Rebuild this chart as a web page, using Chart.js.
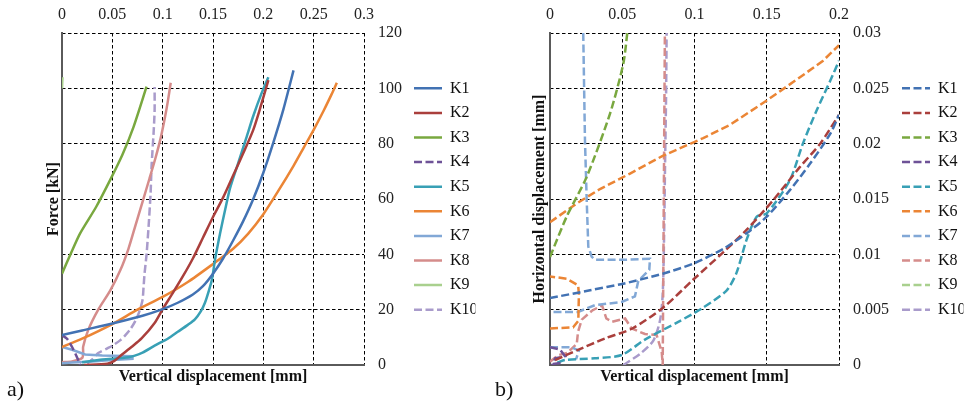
<!DOCTYPE html>
<html>
<head>
<meta charset="utf-8">
<title>Force and displacement</title>
<script src="https://cdn.jsdelivr.net/npm/chart.js@4.4.1/dist/chart.umd.min.js"></script>
<style>
  body { margin: 0; background: #fff; overflow: hidden; }
  #wrap { position: relative; width: 970px; height: 408px; }
  canvas { position: absolute; top: 0; }
  #chartA { left: 0; }
  #chartB { left: 490px; }
  .tag { position: absolute; top: 376px; font-family: 'Liberation Serif', serif; font-size: 22px; color: #111; }
</style>
</head>
<body>
<div id="wrap">
  <canvas id="chartA" width="485" height="408"></canvas>
  <canvas id="chartB" width="480" height="408"></canvas>
  <div class="tag" style="left:7px">a)</div>
  <div class="tag" style="left:495px">b)</div>
</div>
<script>
'use strict';

let names = ['K1', 'K2', 'K3', 'K4', 'K5', 'K6', 'K7', 'K8', 'K9', 'K10'];

// axis ranges: [min, max, step]
let aXTicks = [0, 0.3, 0.05];
let aYTicks = [0, 120, 20];
let bXTicks = [0, 0.2, 0.05];
let bYTicks = [0, 0.03, 0.005];

// a) vertical displacement [mm] vs force [kN]
let aK1 = [[0,10.8],[0.02,12.5],[0.05,15],[0.08,17.8],[0.1,20.2],[0.115,22.5],[0.13,25.5],[0.14,28.5],[0.15,33],[0.16,38.5],[0.17,45],[0.18,52],[0.19,60],[0.2,69.5],[0.21,80.5],[0.22,92.5],[0.23,106.5]];
let aK2 = [[0.022,0],[0.045,0.5],[0.052,1.5],[0.059,3.6],[0.069,6.5],[0.079,9.6],[0.092,15.2],[0.1,20.2],[0.11,26],[0.12,32],[0.13,38.5],[0.14,46],[0.15,53.5],[0.16,60.5],[0.17,68.5],[0.18,76.5],[0.19,85],[0.197,93],[0.205,103]];
let aK3 = [[0,33],[0.009,40.5],[0.018,47.6],[0.034,57.2],[0.048,67],[0.06,76],[0.071,86],[0.084,100.6]];
let aK4 = [[0,10.8],[0.005,9.5],[0.01,6.5],[0.014,3.5],[0.017,1],[0.018,0]];
let aK5 = [[0.02,1],[0.04,2],[0.066,2.8],[0.08,4.5],[0.092,7],[0.105,9.5],[0.115,12],[0.125,14.5],[0.132,16.5],[0.138,19.5],[0.142,22.5],[0.146,27],[0.149,31],[0.152,38],[0.157,47.5],[0.162,56],[0.167,64],[0.175,73],[0.183,82],[0.19,90],[0.198,98],[0.205,104]];
let aK6 = [[0,6.5],[0.02,9.5],[0.05,14.8],[0.075,20],[0.1,24.6],[0.125,30],[0.15,36.5],[0.17,42],[0.185,47.5],[0.2,54.5],[0.215,63],[0.23,72],[0.24,78.5],[0.25,85],[0.26,92],[0.268,98],[0.273,102]];
let aK7 = [[0,6.5],[0.01,5.5],[0.023,3.8],[0.04,3.4],[0.07,3.2],[0.07,2.2],[0.05,1.8],[0.03,1.3],[0.01,0.9],[0,0.6]];
let aK8 = [[0,1],[0.01,1.3],[0.02,2.5],[0.021,4.5],[0.021,6.6],[0.026,12.6],[0.036,20],[0.048,27],[0.058,34.3],[0.066,42],[0.073,50.5],[0.08,59],[0.087,67.5],[0.093,75],[0.098,82],[0.102,89],[0.105,95],[0.108,102]];
let aK9 = [[0,100],[0.0005,104]];
let aK10 = [[0.025,0.5],[0.03,2],[0.036,4.3],[0.045,6],[0.051,7.2],[0.058,9],[0.063,10.8],[0.068,13],[0.073,16],[0.077,19.5],[0.08,23.5],[0.081,28],[0.082,33],[0.084,40],[0.086,50],[0.088,62],[0.089,72],[0.091,84],[0.092,92],[0.092,100.5]];

// b) vertical displacement [mm] vs horizontal displacement [mm], null = break in line
let bK1 = [[0,0.00605],[0.0277,0.00675],[0.0507,0.00735],[0.078,0.00825],[0.0992,0.00916],[0.12,0.0105],[0.136,0.0119],[0.15,0.0134],[0.166,0.0158],[0.18,0.0182],[0.194,0.0209],[0.2,0.0226]];
let bK2 = [[0.0035,0.00045],[0.0194,0.00136],[0.038,0.0024],[0.057,0.0033],[0.0784,0.0052],[0.099,0.0077],[0.12,0.0102],[0.136,0.0122],[0.1545,0.0149],[0.173,0.0179],[0.187,0.02],[0.2,0.0226]];
let bK3 = [[0,0.00976],[0.0115,0.0134],[0.0254,0.017],[0.0415,0.0227],[0.0507,0.0272],[0.0535,0.03]];
let bK4 = [[0,0.0016],[0.0069,0.0014],[0.0104,0.0008],[0.0035,0.0006],[0.002,0.0001],[0.008,0.0002]];
let bK5 = [[0.005,0.0002],[0.0104,0.00045],[0.031,0.0006],[0.0496,0.0009],[0.0657,0.0023],[0.0888,0.0039],[0.105,0.0051],[0.122,0.0067],[0.129,0.0083],[0.136,0.0113],[0.143,0.0134],[0.15,0.0137],[0.166,0.0167],[0.175,0.02],[0.1845,0.023],[0.194,0.0257],[0.2,0.0275]];
let bK6 = [[0,0.0033],[0.016,0.0034],[0.0196,0.004],[0.02,0.0064],[0.0195,0.0072],[0.0115,0.0078],[0,0.008],null,[0,0.0129],[0.0185,0.0146],[0.0346,0.0159],[0.0554,0.0173],[0.078,0.0189],[0.106,0.0205],[0.1245,0.0217],[0.15,0.0239],[0.173,0.026],[0.189,0.0275],[0.2,0.0289]];
let bK7 = [[0.023,0.03],[0.0242,0.0203],[0.0254,0.0149],[0.0265,0.0107],[0.0288,0.0098],[0.0311,0.0095],[0.05,0.0095],[0.0692,0.0096],[0.0687,0.0086],[0.0611,0.0076],[0.0588,0.0062],[0.0496,0.0057],[0.031,0.0054],[0.0194,0.0048],[0,0.0048],null,[0,0.0016],[0.015,0.0016],[0.02,0.0013],[0.018,0.0005]];
let bK8 = [[0,0.0003],[0.006,0.0009],[0.012,0.0011],[0.0185,0.0019],[0.0194,0.003],[0.022,0.0041],[0.029,0.0049],[0.036,0.0054],[0.039,0.0042],[0.043,0.0039],[0.052,0.0042],[0.0565,0.0033],[0.0657,0.0028],[0.0738,0.0027],[0.0773,0.0012],[0.078,0],[0.0785,0.01],[0.079,0.02],[0.0795,0.03]];
let bK9 = [];
let bK10 = [[0.0507,0],[0.0623,0.001],[0.0715,0.0022],[0.0761,0.004],[0.078,0.0064],[0.079,0.012],[0.0796,0.0179],[0.0803,0.024],[0.0807,0.03]];

let colors = ['#4272b3', '#aa3f3c', '#79a83f', '#6e5297', '#38a0b5', '#eb8535', '#82a8d6', '#d58c8b', '#a9d08e', '#a99bcb'];

let serif = 'Liberation Serif';

function toPoints(arr) {
  return arr.map(p => p ? { x: p[0], y: p[1] } : { x: 0, y: null });
}

function cleanNum(v) {
  return String(Math.round(v * 1e6) / 1e6);
}

function makeDatasets(series, dashedAll, dashedOnes, sharp) {
  return series.map((arr, i) => {
    let dashed = dashedAll || dashedOnes.includes(i);
    return {
      label: names[i],
      data: toPoints(arr),
      borderColor: colors[i],
      backgroundColor: colors[i],
      borderWidth: 2.5,
      borderDash: dashed ? [8, 3.5] : [],
      pointRadius: 0,
      showLine: true,
      tension: sharp.includes(i) ? 0 : 0.25,
      spanGaps: false
    };
  });
}

function legendLabels(chart) {
  let items = Chart.defaults.plugins.legend.labels.generateLabels(chart);
  items.forEach(item => {
    let ds = chart.data.datasets[item.datasetIndex];
    item.lineWidth = ds.borderWidth;
    item.lineDash = ds.borderDash;
    item.strokeStyle = ds.borderColor;
  });
  return items;
}

function makeChart(canvasId, datasets, xr, yr, yTitle, box) {
  let ctx = document.getElementById(canvasId).getContext('2d');
  return new Chart(ctx, {
    type: 'scatter',
    data: { datasets: datasets },
    options: {
      responsive: false,
      animation: false,
      layout: { padding: { left: box.padLeft, right: box.padRight, top: 0, bottom: 21.4 } },
      plugins: {
        tooltip: { enabled: false },
        legend: {
          position: 'right',
          fullSize: false,
          maxWidth: 70,
          labels: {
            usePointStyle: true,
            pointStyle: 'line',
            pointStyleWidth: 28,
            padding: 8.6,
            color: '#111',
            font: { family: serif, size: 16 },
            generateLabels: legendLabels
          }
        }
      },
      scales: {
        x: {
          type: 'linear', position: 'top', min: xr[0], max: xr[1],
          ticks: { stepSize: xr[2], padding: 8.4, color: '#222', font: { family: serif, size: 16 }, callback: cleanNum },
          grid: { color: '#000', lineWidth: 1, drawTicks: false },
          border: { display: false, dash: [3.5, 2.5] },
          afterFit: s => { s.height = 33; }
        },
        xb: {
          type: 'linear', axis: 'x', position: 'bottom', min: 0, max: 1,
          ticks: { display: false },
          grid: { display: false },
          border: { color: '#5a5a5a', width: 2 },
          title: { display: true, text: 'Vertical displacement [mm]', color: '#111', padding: 0, font: { family: serif, size: 16, weight: 'bold' } },
          afterFit: s => { s.height = 21.6; }
        },
        y: {
          type: 'linear', position: 'right', min: yr[0], max: yr[1],
          ticks: { stepSize: yr[2], padding: 14, color: '#222', font: { family: serif, size: 16 }, callback: cleanNum },
          grid: { color: '#000', lineWidth: 1, drawTicks: false },
          border: { display: false, dash: [3.5, 2.5] },
          afterFit: s => { s.width = box.yWidth; }
        },
        yl: {
          type: 'linear', axis: 'y', position: 'left', min: 0, max: 1,
          ticks: { display: false },
          grid: { display: false },
          border: { color: '#5a5a5a', width: 2 },
          title: { display: true, text: yTitle, color: '#111', padding: 0, font: { family: serif, size: 16, weight: 'bold' } },
          afterFit: s => { s.width = box.ylWidth; }
        }
      }
    }
  });
}

let setsA = makeDatasets([aK1, aK2, aK3, aK4, aK5, aK6, aK7, aK8, aK9, aK10], false, [3, 9], [6]);
let setsB = makeDatasets([bK1, bK2, bK3, bK4, bK5, bK6, bK7, bK8, bK9, bK10], true, [], [3, 5, 6, 7]);

makeChart('chartA', setsA, aXTicks, aYTicks, 'Force [kN]', { padLeft: 43.9, padRight: 9.6, ylWidth: 18.1, yWidth: 41.4 });
makeChart('chartB', setsB, bXTicks, bYTicks, 'Horizontal displacement [mm]', { padLeft: 40.4, padRight: 6.6, ylWidth: 19.6, yWidth: 54.4 });
</script>
</body>
</html>
